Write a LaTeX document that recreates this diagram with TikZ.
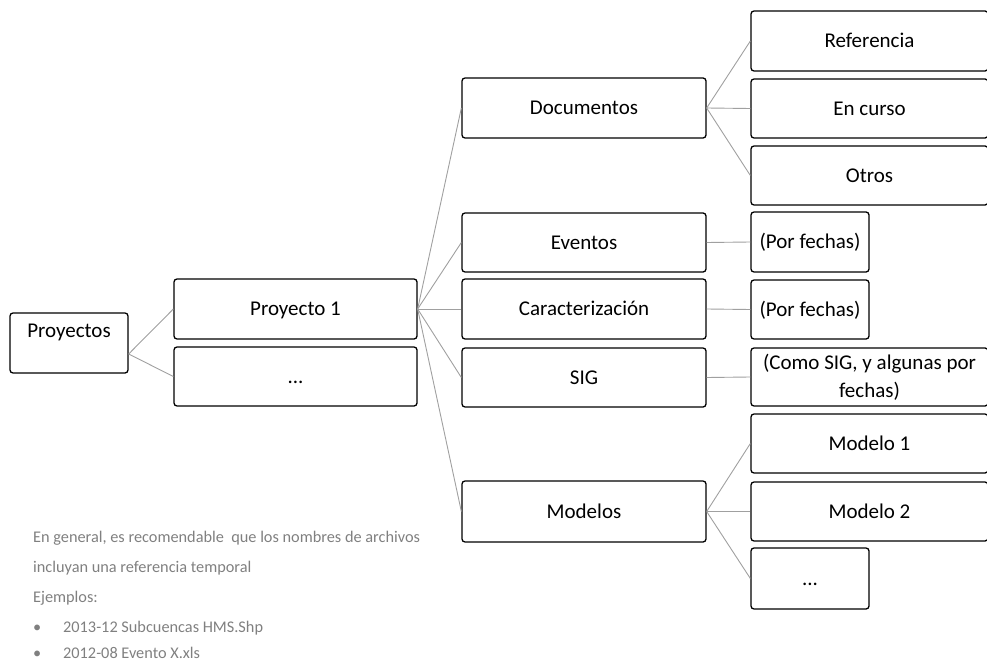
\documentclass[tikz,border=0pt]{standalone}
\usepackage{fontspec}
\setmainfont{Carlito}
\definecolor{linegrey}{RGB}{160,160,160}
\definecolor{notegrey}{RGB}{128,128,128}
\tikzset{
  boxbase/.style={draw=black, line width=1.3pt, rounded corners=3pt, fill=white, inner sep=0pt,
    font=\fontsize{21}{28}\selectfont, align=center},
  box/.style={boxbase, text height=17.5pt, text depth=4pt},
  wbox/.style={box, minimum width=237pt, minimum height=59pt},
  nbox/.style={box, minimum width=118pt, minimum height=59pt},
  mbox/.style={box, minimum width=244pt, minimum height=59pt},
  conn/.style={draw=linegrey, line width=0.9pt},
  note/.style={anchor=base west, inner sep=0pt, text=notegrey, font=\fontsize{16.3}{19}\selectfont}
}
\begin{document}
\begin{tikzpicture}[x=1pt, y=-1pt]
\useasboundingbox (0,0) rectangle (987,663);
% level 0
\node[box, minimum width=118pt, minimum height=60pt, text height=14pt, text depth=25pt] (proy) at (69,343) {Proyectos};
% level 1
\node[mbox, minimum width=243pt, minimum height=60pt] (p1) at (295.5,309) {Proyecto 1};
\node[mbox, minimum width=243pt] (dots1) at (295.5,376.5) {...};
% level 2
\node[mbox, minimum height=60pt] (doc) at (584,108) {Documentos};
\node[mbox] (ev) at (584,242.5) {Eventos};
\node[mbox, minimum height=60pt] (car) at (584,309) {Caracterización};
\node[mbox] (sig) at (584,377.5) {SIG};
\node[mbox, minimum height=61pt] (mod) at (584,511.5) {Modelos};
% level 3
\node[wbox, minimum height=60pt] (ref) at (869.5,41) {Referencia};
\node[wbox] (enc) at (869.5,108.5) {En curso};
\node[wbox] (otr) at (869.5,175.5) {Otros};
\node[nbox, minimum height=60pt] (pf1) at (810,242) {(Por fechas)};
\node[nbox] (pf2) at (810,309.5) {(Por fechas)};
\node[boxbase, minimum width=237pt, minimum height=58pt] (como) at (869.5,377) {(Como SIG, y algunas por\\fechas)};
\node[wbox] (m1) at (869.5,443.5) {Modelo 1};
\node[wbox] (m2) at (869.5,511.5) {Modelo 2};
\node[nbox, minimum height=61pt] (dots2) at (810,578.5) {...};
% connectors
\coordinate (proyout) at ([yshift=-11pt]proy.east);
\draw[conn] (proyout) -- (p1.west);
\draw[conn] (proyout) -- (dots1.west);
\foreach \t in {doc,ev,car,sig,mod} \draw[conn] (p1.east) -- (\t.west);
\foreach \t in {ref,enc,otr} \draw[conn] (doc.east) -- (\t.west);
\draw[conn] (ev.east) -- (pf1.west);
\draw[conn] (car.east) -- (pf2.west);
\draw[conn] (sig.east) -- (como.west);
\foreach \t in {m1,m2,dots2} \draw[conn] (mod.east) -- (\t.west);
% note
\node[note] (n1) at (33,542) {En general, es recomendable\ \ que los nombres de archivos};
\node[note] (n2) at (33,572) {incluyan una referencia temporal};
\node[note] (n3) at (33,602) {Ejemplos:};
\node[note] (b1) at (33,632) {•};
\node[note] (n4) at (63,632) {2013-12 Subcuencas HMS.Shp};
\node[note] (b2) at (33,658) {•};
\node[note] (n5) at (63,658) {2012-08 Evento X.xls};
\end{tikzpicture}
\end{document}
